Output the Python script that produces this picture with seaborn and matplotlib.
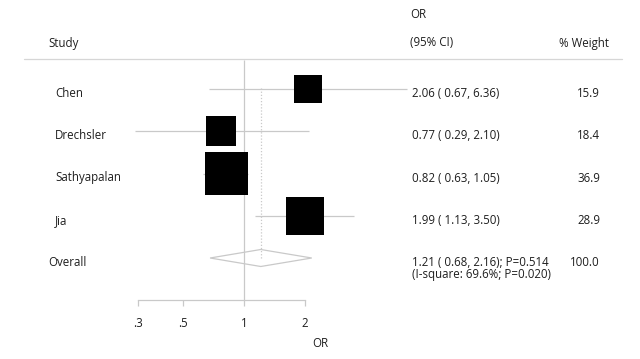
import numpy as np
import matplotlib.pyplot as plt
import seaborn as sns
import pandas as pd
from matplotlib.patches import Polygon
import matplotlib.transforms as mtransforms

studies = ['Chen', 'Drechsler', 'Sathyapalan', 'Jia']
odds = [2.06, 0.77, 0.82, 1.99]
ci_low = [0.67, 0.29, 0.63, 1.13]
ci_high = [6.36, 2.10, 1.05, 3.50]
weights = [15.9, 18.4, 36.9, 28.9]

overall_or = 1.21
overall_low = 0.68
overall_high = 2.16
overall_weight = 100.0
overall_p = '0.514'
i_square = '69.6%'
het_p = '0.020'

ticks = [0.3, 0.5, 1, 2]
tick_labels = ['.3', '.5', '1', '2']

sns.set_theme(style='white')
plt.rcParams['font.family'] = ['Open Sans', 'DejaVu Sans']

W, H = 640, 359
fig = plt.figure(figsize=(6.4, 3.59), dpi=100)

# layout in pixels
ax_bottom_px = 300
row0_px = 89
row_step = 42.25
x1_px = 244
px_per_ln = 88

ax = fig.add_axes([0, 1 - ax_bottom_px / H, 1, ax_bottom_px / H])
ax.set_xscale('log')
ax.set_xlim(np.exp(-x1_px / px_per_ln), np.exp((W - x1_px) / px_per_ln))
ax.set_ylim((ax_bottom_px - row0_px) / row_step, -row0_px / row_step)

def px_row(py):
    return (py - row0_px) / row_step

def px_x(px):
    return px / W

df = pd.DataFrame({'study': studies, 'OR': odds, 'lo': ci_low, 'hi': ci_high,
                   'weight': weights, 'row': np.arange(len(studies))})
n = len(studies)

grey = '#c9c9c9'
txt = '#1e1e1e'

# reference line at 1 and dotted line at overall estimate
ax.vlines(1, px_row(60), px_row(ax_bottom_px), color=grey, lw=0.9, zorder=1)
ax.vlines(overall_or, -0.03, n, color=grey, lw=0.9, ls=(0, (1, 1.5)), zorder=1)

# confidence intervals
ax.hlines(df['row'], df['lo'], df['hi'], color=grey, lw=0.9, zorder=2)

# weighted boxes (area proportional to weight)
k = (7.05 * 0.72) ** 2
sns.scatterplot(data=df, x='OR', y='row', size='weight', marker='s', color='black',
                sizes=(k * min(weights), k * max(weights)), linewidth=0,
                legend=False, ax=ax, zorder=3)

# overall diamond
h = 8.5 / row_step
diamond = Polygon([(overall_low, n), (overall_or, n - h), (overall_high, n), (overall_or, n + h)],
                  closed=True, fill=False, edgecolor=grey, lw=0.9, zorder=3)
ax.add_patch(diamond)

bt = mtransforms.blended_transform_factory(ax.transAxes, ax.transData)

# header line
ax.plot([px_x(24), px_x(622)], [px_row(59), px_row(59)], color='#d6d6d6', lw=0.9,
        transform=bt, clip_on=False)

fs = 8.3
ax.text(px_x(48), px_row(43), 'Study', transform=bt, ha='left', va='center', fontsize=fs, color=txt)
ax.text(px_x(410), px_row(15), 'OR', transform=bt, ha='left', va='center', fontsize=fs, color=txt)
ax.text(px_x(410), px_row(43), '(95% CI)', transform=bt, ha='left', va='center', fontsize=fs, color=txt)
ax.text(px_x(609), px_row(43), '% Weight', transform=bt, ha='right', va='center', fontsize=fs, color=txt)

dy = 4.5 / row_step
for i, r in df.iterrows():
    ax.text(px_x(55), r['row'] + dy, r['study'], transform=bt, ha='left', va='center', fontsize=fs, color=txt)
    ax.text(px_x(412), r['row'] + dy, f"{r['OR']:.2f} ( {r['lo']:.2f}, {r['hi']:.2f})",
            transform=bt, ha='left', va='center', fontsize=fs, color=txt)
    ax.text(px_x(600), r['row'] + dy, f"{r['weight']:.1f}", transform=bt, ha='right', va='center',
            fontsize=fs, color=txt)

ax.text(px_x(48), n + dy, 'Overall', transform=bt, ha='left', va='center', fontsize=fs, color=txt)
ax.text(px_x(412), n + dy, f"{overall_or:.2f} ( {overall_low:.2f}, {overall_high:.2f}); P={overall_p}",
        transform=bt, ha='left', va='center', fontsize=fs, color=txt)
ax.text(px_x(412), n + dy + 12 / row_step, f"(I-square: {i_square}; P={het_p})",
        transform=bt, ha='left', va='center', fontsize=fs, color=txt)
ax.text(px_x(600), n + dy, f"{overall_weight:.1f}", transform=bt, ha='right', va='center',
        fontsize=fs, color=txt)

# bottom axis
for s in ['top', 'right', 'left']:
    ax.spines[s].set_visible(False)
ax.spines['bottom'].set_bounds(min(ticks), max(ticks))
ax.spines['bottom'].set_color(grey)
ax.spines['bottom'].set_linewidth(0.9)
ax.set_xticks(ticks)
ax.set_xticklabels(tick_labels)
ax.minorticks_off()
ax.tick_params(axis='x', bottom=True, direction='out', length=4, width=0.9, color=grey,
               labelsize=fs, labelcolor=txt, pad=8)
ax.set_yticks([])
ax.set_xlabel('OR', fontsize=fs, color=txt, labelpad=5)
ax.set_ylabel('')
ax.grid(False)

fig.savefig('out.png', dpi=100)
